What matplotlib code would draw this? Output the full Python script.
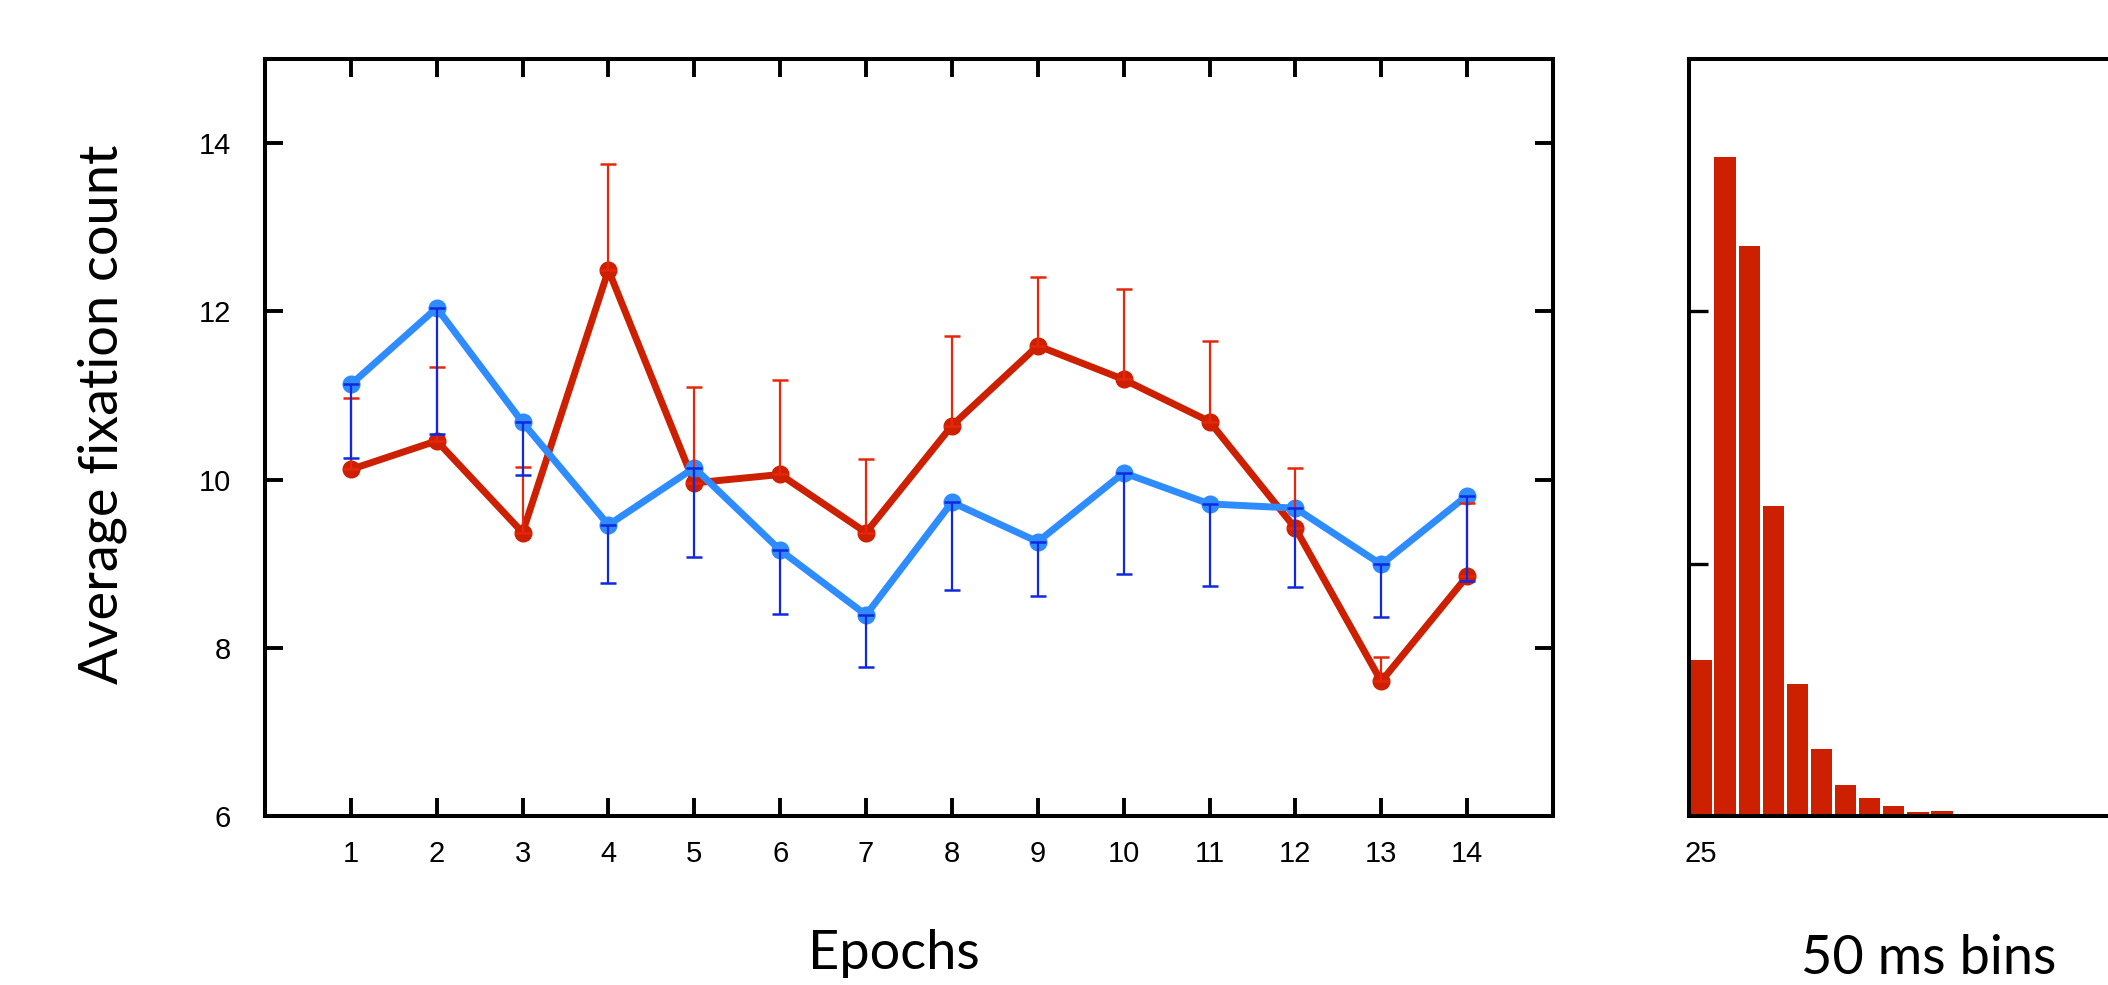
import numpy as np
import matplotlib
matplotlib.use("Agg")
import matplotlib.pyplot as plt

# mean fixation count per epoch, two conditions
epochs = [1, 2, 3, 4, 5, 6, 7, 8, 9, 10, 11, 12, 13, 14]
blue_mean = [11.13, 12.04, 10.68, 9.46, 10.14, 9.16, 8.39, 9.73, 9.26, 10.08, 9.71, 9.66, 8.99, 9.81]
blue_err = [0.87, 1.50, 0.63, 0.69, 1.06, 0.76, 0.62, 1.04, 0.64, 1.20, 0.97, 0.94, 0.62, 1.02]
red_mean = [10.12, 10.46, 9.37, 12.49, 9.96, 10.06, 9.37, 10.64, 11.59, 11.19, 10.69, 9.42, 7.60, 8.85]
red_err = [0.85, 0.88, 0.78, 1.26, 1.14, 1.12, 0.88, 1.07, 0.82, 1.08, 0.96, 0.72, 0.29, 0.87]

# fixation duration histogram, 50 ms bins (centres in ms, arbitrary height units)
bin_centers = [25, 75, 125, 175, 225, 275, 325, 375, 425, 475, 525, 575]
bin_heights = [6.2, 26.1, 22.6, 12.3, 5.25, 2.67, 1.23, 0.72, 0.39, 0.17, 0.21, 0.09]

RED = "#cd2000"
RED_ERR = "#e8260a"
BLUE = "#2e8cff"
BLUE_ERR = "#1028e0"

tick_font = "Liberation Sans"
label_font = "Lato"

fig = plt.figure(figsize=(21.08, 9.85), dpi=100)

#----- left panel: epochs
ax = fig.add_axes([0.1257, 0.1716, 0.6110, 0.7685])
zeros = np.zeros(len(epochs))

ax.plot(epochs, red_mean, color=RED, lw=5, marker="o", ms=12, zorder=2)
ax.plot(epochs, blue_mean, color=BLUE, lw=5, marker="o", ms=12, zorder=3)
ax.errorbar(epochs, red_mean, yerr=[zeros, red_err], fmt="none", ecolor=RED_ERR,
            elinewidth=1.6, capsize=5.5, capthick=1.8, zorder=4)
ax.errorbar(epochs, blue_mean, yerr=[blue_err, zeros], fmt="none", ecolor=BLUE_ERR,
            elinewidth=1.6, capsize=5.5, capthick=1.8, zorder=4)

ax.set_xlim(0, 15)
ax.set_ylim(6, 15)
ax.set_xticks(epochs)
ax.set_yticks([6, 8, 10, 12, 14])
ax.tick_params(axis="both", direction="in", length=13, width=2.8,
               top=True, right=True, labelsize=21)
ax.tick_params(axis="x", pad=17.5)
ax.tick_params(axis="y", pad=24.5)
for lab in ax.get_xticklabels() + ax.get_yticklabels():
    lab.set_family(tick_font)
for sp in ax.spines.values():
    sp.set_linewidth(2.9)

ax.set_ylabel("Average fixation count", family=label_font, fontsize=39, va="center")
ax.yaxis.set_label_coords(-0.1266, 0.53)
ax.set_xlabel("Epochs", family=label_font, fontsize=39, va="center")
ax.xaxis.set_label_coords(0.488, -0.182)

#----- right panel: histogram, runs off the figure edge
ax2 = fig.add_axes([0.8012, 0.1716, 0.2287, 0.7685])
ax2.bar(bin_centers, bin_heights, width=44, color=RED, zorder=2)
ax2.set_xlim(0, 1000)
ax2.set_ylim(0, 30)
ax2.set_xticks([25])
ax2.set_xticklabels(["25"], family=tick_font)
ax2.set_yticks([10, 20])
ax2.set_yticklabels([])
ax2.tick_params(axis="x", length=0, labelsize=21, pad=17.5)
ax2.tick_params(axis="y", direction="in", length=14, width=2.4)
for sp in ax2.spines.values():
    sp.set_linewidth(2.9)
    sp.set_zorder(3)
ax2.set_xlabel("50 ms bins", family=label_font, fontsize=39, va="center")
ax2.xaxis.set_label_coords(0.498, -0.188)

fig.savefig("out.png", dpi=100)
